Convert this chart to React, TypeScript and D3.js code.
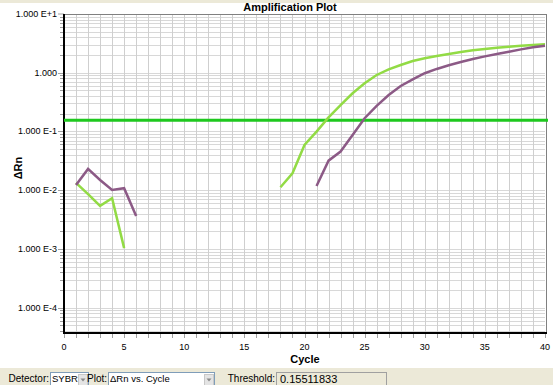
import React, { useEffect, useRef } from 'react';
import * as d3 from 'd3';

// early (background) cycles
const greenEarlyCycles = [1, 2, 3, 4, 5];
const greenEarlyValues = [0.0133, 0.0086, 0.0054, 0.0073, 0.00103];
const purpleEarlyCycles = [1, 2, 3, 4, 5, 6];
const purpleEarlyValues = [0.0123, 0.023, 0.0149, 0.0101, 0.0108, 0.00365];

// amplification cycles
const greenLateCycles = d3.range(18, 41);
const greenLateValues = [0.0112, 0.0194, 0.0589, 0.0993, 0.174, 0.282, 0.447, 0.66, 0.916, 1.14, 1.355, 1.585,
    1.76, 1.93, 2.09, 2.25, 2.41, 2.54, 2.67, 2.78, 2.89, 2.97, 3.05];
const purpleLateCycles = d3.range(21, 41);
const purpleLateValues = [0.0118, 0.0318, 0.0454, 0.087, 0.168, 0.272, 0.418, 0.595, 0.773, 0.98, 1.16, 1.34,
    1.52, 1.71, 1.9, 2.08, 2.28, 2.5, 2.71, 2.89];

const threshold = 0.15511833;
const xTickLabels = [0, 5, 10, 15, 20, 25, 30, 35, 40];
const yMajorTicks = [10, 1, 0.1, 0.01, 0.001, 0.0001];
const yTickLabels = ['1.000 E+1', '1.000', '1.000 E-1', '1.000 E-2', '1.000 E-3', '1.000 E-4'];

const GREEN = '#92db45';
const PURPLE = '#8c5a86';
const FONT = '"Liberation Sans", Arial, sans-serif';

export default function App() {
    const ref = useRef<SVGSVGElement>(null);

    useEffect(() => {
        const svg = d3.select(ref.current);
        svg.selectAll('*').remove();

        const left = 64, right = 545, top = 14, bottom = 333;

        const x = d3.scaleLinear().domain([0, 40]).range([left, right]);
        const y = d3.scaleLog().domain([3.7e-5, 10]).range([bottom, top]);

        // backgrounds
        svg.append('rect').attr('width', 553).attr('height', 385).attr('fill', '#ffffff');
        svg.append('rect').attr('width', 553).attr('height', 3).attr('fill', '#ece9d8');

        // horizontal grid (log minor)
        const minor: number[] = [];
        for (let d = -5; d <= 0; d++) {
            for (let m = 1; m <= 9; m++) {
                const v = m * Math.pow(10, d);
                if (v >= 3.7e-5 && v <= 10) minor.push(v);
            }
        }
        svg.append('g').selectAll('line').data(minor).join('line')
            .attr('x1', left).attr('x2', right)
            .attr('y1', d => Math.round(y(d)) + 0.5).attr('y2', d => Math.round(y(d)) + 0.5)
            .attr('stroke', '#d8d8d8').attr('stroke-width', 1);

        // vertical grid
        svg.append('g').selectAll('line').data(d3.range(1, 40)).join('line')
            .attr('x1', d => Math.round(x(d)) + 0.5).attr('x2', d => Math.round(x(d)) + 0.5)
            .attr('y1', top).attr('y2', bottom)
            .attr('stroke', '#cfcfcf').attr('stroke-width', 1);

        // y ticks
        svg.append('g').selectAll('line').data(minor).join('line')
            .attr('x1', d => yMajorTicks.includes(d) ? left - 6 : left - 4).attr('x2', left)
            .attr('y1', d => Math.round(y(d)) + 0.5).attr('y2', d => Math.round(y(d)) + 0.5)
            .attr('stroke', '#a0a0a0');
        svg.append('line').attr('x1', left - 6).attr('x2', left)
            .attr('y1', y(10)).attr('y2', y(10)).attr('stroke', '#a0a0a0');
        svg.append('g').selectAll('text').data(yMajorTicks).join('text')
            .attr('x', left - 7).attr('y', d => y(d) + 3)
            .attr('text-anchor', 'end').attr('font-size', 9).attr('font-family', FONT)
            .text((d, i) => yTickLabels[i]);

        // x ticks
        svg.append('g').selectAll('line').data(d3.range(0, 41)).join('line')
            .attr('x1', d => Math.round(x(d)) + 0.5).attr('x2', d => Math.round(x(d)) + 0.5)
            .attr('y1', bottom).attr('y2', bottom + 5)
            .attr('stroke', '#a0a0a0');
        svg.append('g').selectAll('text').data(xTickLabels).join('text')
            .attr('x', d => x(d)).attr('y', bottom + 17)
            .attr('text-anchor', 'middle').attr('font-size', 9).attr('font-family', FONT)
            .text(d => d);

        // frame
        svg.append('line').attr('x1', left).attr('x2', right + 2).attr('y1', top + 0.5).attr('y2', top + 0.5)
            .attr('stroke', '#808080');
        svg.append('line').attr('x1', right + 1.5).attr('x2', right + 1.5).attr('y1', top).attr('y2', bottom)
            .attr('stroke', '#808080');
        svg.append('line').attr('x1', left).attr('x2', left).attr('y1', top).attr('y2', bottom + 1)
            .attr('stroke', '#000').attr('stroke-width', 2);
        svg.append('line').attr('x1', left).attr('x2', right + 2).attr('y1', bottom).attr('y2', bottom)
            .attr('stroke', '#000').attr('stroke-width', 2);

        // threshold
        svg.append('line').attr('x1', left).attr('x2', right + 3)
            .attr('y1', y(threshold)).attr('y2', y(threshold))
            .attr('stroke', '#1ec81e').attr('stroke-width', 3);

        // curves
        const line = d3.line<[number, number]>().x(d => x(d[0])).y(d => y(d[1]));
        const series: [number[], number[], string][] = [
            [greenEarlyCycles, greenEarlyValues, GREEN],
            [purpleEarlyCycles, purpleEarlyValues, PURPLE],
            [greenLateCycles, greenLateValues, GREEN],
            [purpleLateCycles, purpleLateValues, PURPLE],
        ];
        series.forEach(([cs, vs, color]) => {
            svg.append('path')
                .datum(cs.map((c, i) => [c, vs[i]] as [number, number]))
                .attr('d', line)
                .attr('fill', 'none')
                .attr('stroke', color)
                .attr('stroke-width', 2.5);
        });

        // titles
        svg.append('text').attr('x', 290).attr('y', 11).attr('text-anchor', 'middle')
            .attr('font-size', 11).attr('font-weight', 'bold').attr('font-family', FONT)
            .text('Amplification Plot');
        svg.append('text').attr('x', 305).attr('y', 363).attr('text-anchor', 'middle')
            .attr('font-size', 11).attr('font-weight', 'bold').attr('font-family', FONT)
            .text('Cycle');
        svg.append('text').attr('transform', 'translate(22,168) rotate(-90)').attr('text-anchor', 'middle')
            .attr('font-size', 11).attr('font-weight', 'bold').attr('font-family', FONT)
            .text('ΔRn');

        // control bar
        const bar = svg.append('g');
        bar.append('rect').attr('x', 0).attr('y', 368).attr('width', 553).attr('height', 17).attr('fill', '#ece9d8');
        const label = (tx: number, t: string) => bar.append('text').attr('x', tx).attr('y', 382)
            .attr('text-anchor', 'end')
            .attr('font-size', 10).attr('font-family', FONT).attr('fill', '#000').text(t);
        const combo = (bx: number, bw: number, t: string) => {
            bar.append('rect').attr('x', bx + 0.5).attr('y', 372.5).attr('width', bw).attr('height', 14)
                .attr('fill', '#fff').attr('stroke', '#7f9db9');
            bar.append('text').attr('x', bx + 2).attr('y', 382).attr('font-size', 9.5).attr('font-family', FONT).text(t);
            bar.append('rect').attr('x', bx + bw - 9.5).attr('y', 374.5).attr('width', 9).attr('height', 11)
                .attr('fill', '#e4e4e4').attr('stroke', '#c8c8c8');
            bar.append('path')
                .attr('d', `M${bx + bw - 7.5},378.5 L${bx + bw - 2.5},378.5 L${bx + bw - 5},381.5 Z`)
                .attr('fill', '#8a8a8a');
        };
        label(49, 'Detector:');
        combo(50, 38, 'SYBR');
        label(107, 'Plot:');
        combo(108, 106, 'ΔRn vs. Cycle');
        label(275, 'Threshold:');
        bar.append('rect').attr('x', 276.5).attr('y', 372.5).attr('width', 110).attr('height', 14)
            .attr('fill', '#ece9d8').attr('stroke', '#a0a0a0');
        bar.append('text').attr('x', 280).attr('y', 383).attr('font-size', 11).attr('font-family', FONT)
            .text(threshold.toFixed(8));
    }, []);

    return (
        <div style={{ position: 'absolute', left: 0, top: 0 }}>
            <svg ref={ref} width={553} height={385} style={{ display: 'block' }} />
        </div>
    );
}
